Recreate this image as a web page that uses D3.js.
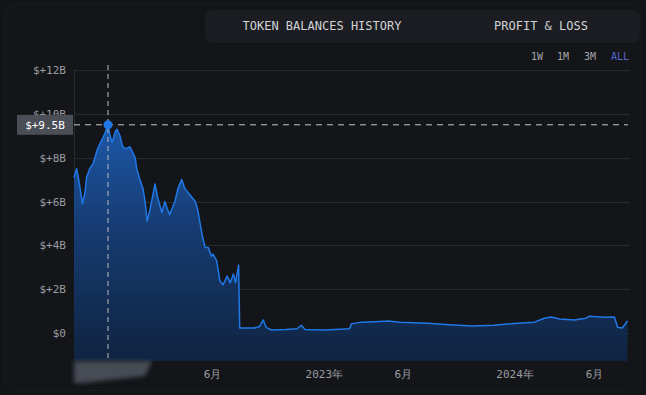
<!DOCTYPE html>
<html>
<head>
<meta charset="utf-8">
<script src="https://cdn.jsdelivr.net/npm/d3@7"></script>
<style>
    html, body { margin: 0; padding: 0; background: #131418; }
    svg { display: block; }
    text { font-family: "DejaVu Sans Mono", "Liberation Mono", monospace; }
    .axis text { fill: #9b9da3; font-size: 11px; }
    .axis path, .axis line { display: none; }
</style>
</head>
<body>
<svg id="chart" width="646" height="395"></svg>
<script>

// balance history (billions of dollars)
var dates = [
    "2021-09-10", "2021-09-15", "2021-09-19", "2021-09-23", "2021-09-26", "2021-10-01",
    "2021-10-04", "2021-10-10", "2021-10-16", "2021-10-20", "2021-10-25", "2021-10-31",
    "2021-11-04", "2021-11-08", "2021-11-14", "2021-11-18", "2021-11-22", "2021-11-28",
    "2021-12-01", "2021-12-07", "2021-12-12", "2021-12-18", "2021-12-26", "2022-01-01",
    "2022-01-05", "2022-01-08", "2022-01-14", "2022-01-20", "2022-01-24", "2022-01-28",
    "2022-02-02", "2022-02-08", "2022-02-12", "2022-02-17", "2022-02-25", "2022-03-03",
    "2022-03-07", "2022-03-12", "2022-03-22", "2022-03-28", "2022-04-04", "2022-04-10",
    "2022-04-20", "2022-04-30", "2022-05-05", "2022-05-13", "2022-05-19", "2022-05-25",
    "2022-05-31", "2022-06-03", "2022-06-10", "2022-06-16", "2022-06-22", "2022-06-30",
    "2022-07-06", "2022-07-12", "2022-07-16", "2022-07-22", "2022-07-24", "2022-08-21",
    "2022-08-31", "2022-09-07", "2022-09-13", "2022-09-23", "2022-10-21", "2022-11-11",
    "2022-11-19", "2022-11-26", "2023-01-03", "2023-02-19", "2023-02-23", "2023-03-14",
    "2023-04-08", "2023-05-05", "2023-05-26", "2023-07-18", "2023-08-29", "2023-10-12",
    "2023-11-22", "2024-01-06", "2024-02-08", "2024-02-27", "2024-03-11", "2024-03-27",
    "2024-04-24", "2024-05-17", "2024-05-23", "2024-06-21", "2024-07-10", "2024-07-16",
    "2024-07-25", "2024-08-04"
];
var balances = [
    7.1, 7.5, 7.0, 6.4, 5.9, 6.4,
    7.1, 7.5, 7.7, 8.0, 8.4, 8.7,
    8.9, 9.1, 9.5, 9.0, 8.7, 9.2,
    9.3, 9.0, 8.5, 8.4, 8.5, 8.2,
    8.0, 7.5, 7.0, 6.6, 6.0, 5.1,
    5.6, 6.3, 6.8, 6.2, 5.5, 6.0,
    5.7, 5.4, 6.0, 6.6, 7.0, 6.6,
    6.3, 6.0, 5.6, 4.5, 3.9, 3.9,
    3.5, 3.6, 3.3, 2.4, 2.2, 2.6,
    2.3, 2.7, 2.3, 3.1, 0.23, 0.23,
    0.3, 0.6, 0.25, 0.14, 0.16, 0.2,
    0.36, 0.16, 0.14, 0.2, 0.42, 0.5,
    0.52, 0.55, 0.5, 0.45, 0.38, 0.32,
    0.36, 0.45, 0.5, 0.68, 0.73, 0.64,
    0.6, 0.68, 0.77, 0.72, 0.73, 0.27,
    0.23, 0.55
];

// axis ticks
var yTicks = [0, 2, 4, 6, 8, 10, 12];
var xTickDates = ["2022-06-01", "2023-01-01", "2023-06-01", "2024-01-01", "2024-06-01"];
var xTickLabels = ["6月", "2023年", "6月", "2024年", "6月"];

// header tabs and range buttons
var tabs = ["TOKEN BALANCES HISTORY", "PROFIT & LOSS"];
var ranges = ["1W", "1M", "3M", "ALL"];
var activeRange = "ALL";

// hovered point
var hoverDate = "2021-11-14";
var hoverValue = 9.5;
var hoverLabel = "$+9.5B";

var parseDate = d3.timeParse("%Y-%m-%d");
var data = dates.map(function(d, i) {
    return {date: parseDate(d), value: balances[i]};
});

var svg = d3.select("#chart");

var margin = {left: 74, right: 18, top: 70, bottom: 34};
var width = 646 - margin.left - margin.right;
var height = 395 - margin.top - margin.bottom;

// card background
svg.append("rect")
    .attr("x", 4.5)
    .attr("y", 4.5)
    .attr("width", 637)
    .attr("height", 386)
    .attr("rx", 10)
    .attr("fill", "#141519")
    .attr("stroke", "#1a1b20");

// header panel behind the tabs
svg.append("rect")
    .attr("x", 205)
    .attr("y", 10)
    .attr("width", 435)
    .attr("height", 33)
    .attr("rx", 8)
    .attr("fill", "#1c1d22");

svg.selectAll(".tab")
    .data(tabs)
    .enter().append("text")
    .attr("class", "tab")
    .attr("x", function(d, i) { return [322, 541][i]; })
    .attr("y", 30)
    .attr("text-anchor", "middle")
    .style("font-size", "12px")
    .style("fill", "#d2d3d6")
    .text(function(d) { return d; });

svg.selectAll(".range")
    .data(ranges)
    .enter().append("text")
    .attr("class", "range")
    .attr("x", function(d, i) { return [537, 563, 590, 620][i]; })
    .attr("y", 60)
    .attr("text-anchor", "middle")
    .style("font-size", "10px")
    .style("fill", function(d) { return d === activeRange ? "#5568d0" : "#a4a6ac"; })
    .text(function(d) { return d; });

var g = svg.append("g")
    .attr("transform", "translate(" + margin.left + "," + margin.top + ")");

// scales
var x = d3.scaleTime()
    .domain([parseDate("2021-09-10"), parseDate("2024-08-05")])
    .range([0, width]);
var y = d3.scaleLinear()
    .domain([-1.25, 12])
    .range([height - 0.5, 0]);

// gridlines
g.append("g")
    .selectAll("line")
    .data(yTicks)
    .enter().append("line")
    .attr("x1", 0)
    .attr("x2", width + 2)
    .attr("y1", function(d) { return Math.round(y(d)) + 0.5; })
    .attr("y2", function(d) { return Math.round(y(d)) + 0.5; })
    .attr("stroke", "#2a2b31");

// left edge of the plot
g.append("line")
    .attr("x1", 0.5)
    .attr("x2", 0.5)
    .attr("y1", 0)
    .attr("y2", height)
    .attr("stroke", "#2a2c33");

// gradient for the area
var defs = svg.append("defs");
var grad = defs.append("linearGradient")
    .attr("id", "areaFill")
    .attr("gradientUnits", "userSpaceOnUse")
    .attr("x1", 0).attr("x2", 0)
    .attr("y1", y(9.5)).attr("y2", height);
grad.append("stop").attr("offset", "0%").attr("stop-color", "#1d5bb0").attr("stop-opacity", 0.95);
grad.append("stop").attr("offset", "45%").attr("stop-color", "#163f7a").attr("stop-opacity", 0.9);
grad.append("stop").attr("offset", "100%").attr("stop-color", "#0f2545").attr("stop-opacity", 0.9);

var blur = defs.append("filter")
    .attr("id", "blur")
    .attr("x", "-20%").attr("y", "-40%")
    .attr("width", "140%").attr("height", "180%");
blur.append("feGaussianBlur").attr("stdDeviation", 2);

var area = d3.area()
    .x(function(d) { return x(d.date); })
    .y0(height)
    .y1(function(d) { return y(d.value); });

var line = d3.line()
    .x(function(d) { return x(d.date); })
    .y(function(d) { return y(d.value); });

g.append("path")
    .datum(data)
    .attr("d", area)
    .attr("fill", "url(#areaFill)");

g.append("path")
    .datum(data)
    .attr("d", line)
    .attr("fill", "none")
    .attr("stroke", "#1f78e6")
    .attr("stroke-width", 1.5)
    .attr("stroke-linejoin", "round");

// y axis labels
g.append("g")
    .attr("class", "axis y")
    .attr("transform", "translate(-8,0)")
    .call(d3.axisLeft(y)
        .tickValues(yTicks)
        .tickSize(0)
        .tickPadding(0)
        .tickFormat(function(d) { return d === 0 ? "$0" : "$+" + d + "B"; }));

// x axis labels
g.append("g")
    .attr("class", "axis x")
    .attr("transform", "translate(0," + (height + 9) + ")")
    .call(d3.axisBottom(x)
        .tickValues(xTickDates.map(parseDate))
        .tickSize(0)
        .tickPadding(0)
        .tickFormat(function(d, i) { return xTickLabels[i]; }));

// crosshair
var hx = x(parseDate(hoverDate));
var hy = y(hoverValue);

g.append("line")
    .attr("x1", hx).attr("x2", hx)
    .attr("y1", -5).attr("y2", height)
    .attr("stroke", "#b9bbc0")
    .attr("stroke-dasharray", "5,4");

g.append("line")
    .attr("x1", 0).attr("x2", width)
    .attr("y1", hy).attr("y2", hy)
    .attr("stroke", "#c4c6ca")
    .attr("stroke-dasharray", "6,5");

g.append("circle")
    .attr("cx", hx)
    .attr("cy", hy)
    .attr("r", 4.5)
    .attr("fill", "#1f78e6");

// value label on the y axis
g.append("rect")
    .attr("x", -57)
    .attr("y", hy - 10)
    .attr("width", 56)
    .attr("height", 20)
    .attr("fill", "#4a4e57");
g.append("text")
    .attr("x", -29)
    .attr("y", hy + 4)
    .attr("text-anchor", "middle")
    .style("font-size", "11px")
    .style("fill", "#ffffff")
    .text(hoverLabel);

// blurred date label under the plot
g.append("path")
    .attr("d", "M0," + height + "H78L71," + (height + 15) + "L8," + (height + 22) + "H0Z")
    .attr("fill", "#50545e")
    .attr("opacity", 0.85)
    .attr("filter", "url(#blur)");

</script>
</body>
</html>
